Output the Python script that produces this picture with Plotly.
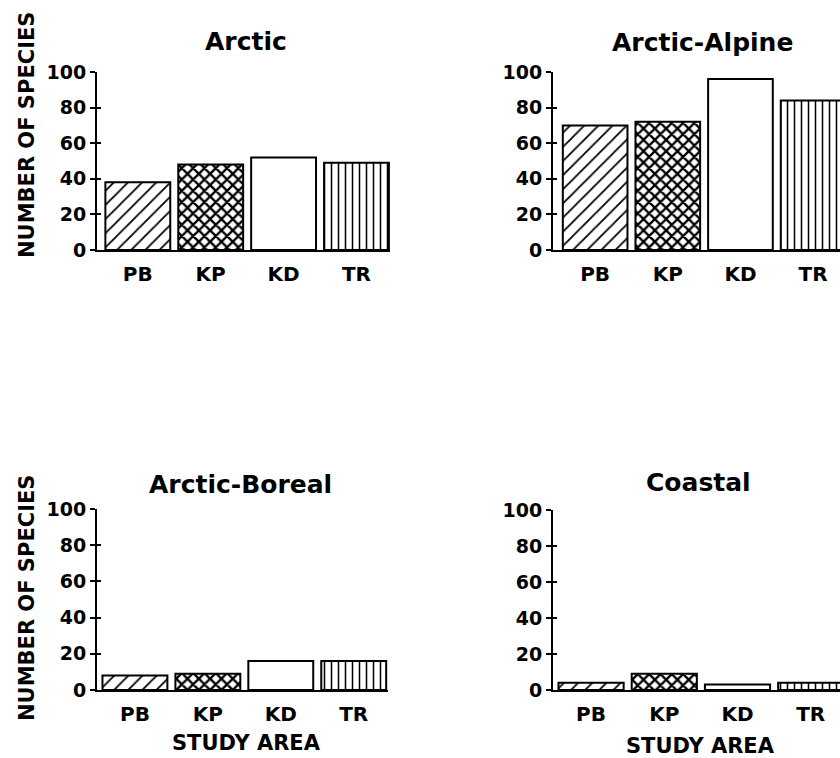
import plotly.graph_objects as go

areas = ["PB", "KP", "KD", "TR"]
arctic = [38, 48, 52, 49]
arctic_alpine = [70, 72, 96, 84]
arctic_boreal = [8, 9, 16, 16]
coastal = [4, 9, 3, 4]

titles = ["Arctic", "Arctic-Alpine", "Arctic-Boreal", "Coastal"]
y_ticks = [0, 20, 40, 60, 80, 100]
y_title = "NUMBER OF SPECIES"
x_title = "STUDY AREA"

W, H = 840, 758
FONT = "DejaVu Sans"

patterns = ["/", "x", "", "|"]
pat_size = [10, 8, 8, 7]
pat_sol = [0.18, 0.5, 0.3, 0.22]

# panel geometry in pixels: (x0, x1, y_top(100), y_bottom(0), xrange)
panels = [
    (97, 390, 72, 250, [-0.56, 3.46]),
    (553, 840, 72, 250, [-0.58, 3.37]),
    (97, 388, 509, 690, [-0.52, 3.47]),
    (553, 840, 510, 690, [-0.52, 3.40]),
]
data = [arctic, arctic_alpine, arctic_boreal, coastal]

fig = go.Figure()
layout = {}
for i, (vals, (x0, x1, yt, yb, xr)) in enumerate(zip(data, panels)):
    n = i + 1
    xa = "x" if n == 1 else f"x{n}"
    ya = "y" if n == 1 else f"y{n}"
    fig.add_trace(go.Bar(
        x=areas, y=vals, xaxis=xa, yaxis=ya, width=0.89,
        marker=dict(
            color="white",
            line=dict(color="black", width=2),
            pattern=dict(shape=patterns, size=pat_size, solidity=pat_sol,
                         fgcolor="black", bgcolor="white", fillmode="replace"),
        ),
        showlegend=False, hoverinfo="x+y",
    ))
    xkey = "xaxis" if n == 1 else f"xaxis{n}"
    ykey = "yaxis" if n == 1 else f"yaxis{n}"
    layout[xkey] = dict(
        domain=[x0 / W, x1 / W], range=xr, anchor=ya, automargin=False,
        showline=True, linecolor="black", linewidth=2,
        showgrid=False, zeroline=False, ticks="",
        ticklabelstandoff=5,
        tickfont=dict(family=FONT, size=20, color="black", weight="bold"),
        fixedrange=True,
    )
    layout[ykey] = dict(
        domain=[1 - yb / H, 1 - yt / H], range=[0, 100], anchor=xa, automargin=False,
        tickvals=y_ticks, showline=True, linecolor="black", linewidth=2,
        showgrid=False, zeroline=False, ticks="outside", ticklen=5,
        tickwidth=2, tickcolor="black",
        tickfont=dict(family=FONT, size=19, color="black", weight="bold"),
        fixedrange=True,
    )
    # overlay axis for the inner half of the crossing ticks
    on = n + 4
    layout[f"yaxis{on}"] = dict(
        overlaying=ya, range=[0, 100], anchor=xa, side="left", automargin=False,
        tickvals=y_ticks, showline=False, showgrid=False, zeroline=False,
        ticks="inside", ticklen=4, tickwidth=2, tickcolor="black",
        showticklabels=False, fixedrange=True,
    )
    fig.add_trace(go.Scatter(x=[areas[0]], y=[0], xaxis=xa, yaxis=f"y{on}",
                             mode="markers", marker=dict(opacity=0),
                             showlegend=False, hoverinfo="skip"))

annots = []
title_pos = [(246, 41), (702, 42), (241, 484), (698, 482)]
for t, (px, py) in zip(titles, title_pos):
    annots.append(dict(text=t, x=px / W, y=1 - py / H, xref="paper", yref="paper",
                       showarrow=False, xanchor="center", yanchor="middle",
                       font=dict(family=FONT, size=25, color="black", weight="bold")))
for py in (135, 598):
    annots.append(dict(text=y_title, x=27 / W, y=1 - py / H, xref="paper", yref="paper",
                       showarrow=False, textangle=-90, xanchor="center", yanchor="middle",
                       font=dict(family=FONT, size=21, color="black", weight="bold")))
for px, py in ((246, 743), (700, 746)):
    annots.append(dict(text=x_title, x=px / W, y=1 - py / H, xref="paper", yref="paper",
                       showarrow=False, xanchor="center", yanchor="middle",
                       font=dict(family=FONT, size=21, color="black", weight="bold")))

fig.update_layout(
    width=W, height=H, margin=dict(l=0, r=0, t=0, b=0, pad=0, autoexpand=False),
    paper_bgcolor="white", plot_bgcolor="white",
    annotations=annots, bargap=0.1, **layout,
)
fig.write_html(
    "out.html",
    config={"displayModeBar": False},
    post_script="document.body.style.margin='0px';document.body.style.overflow='hidden';",
)
